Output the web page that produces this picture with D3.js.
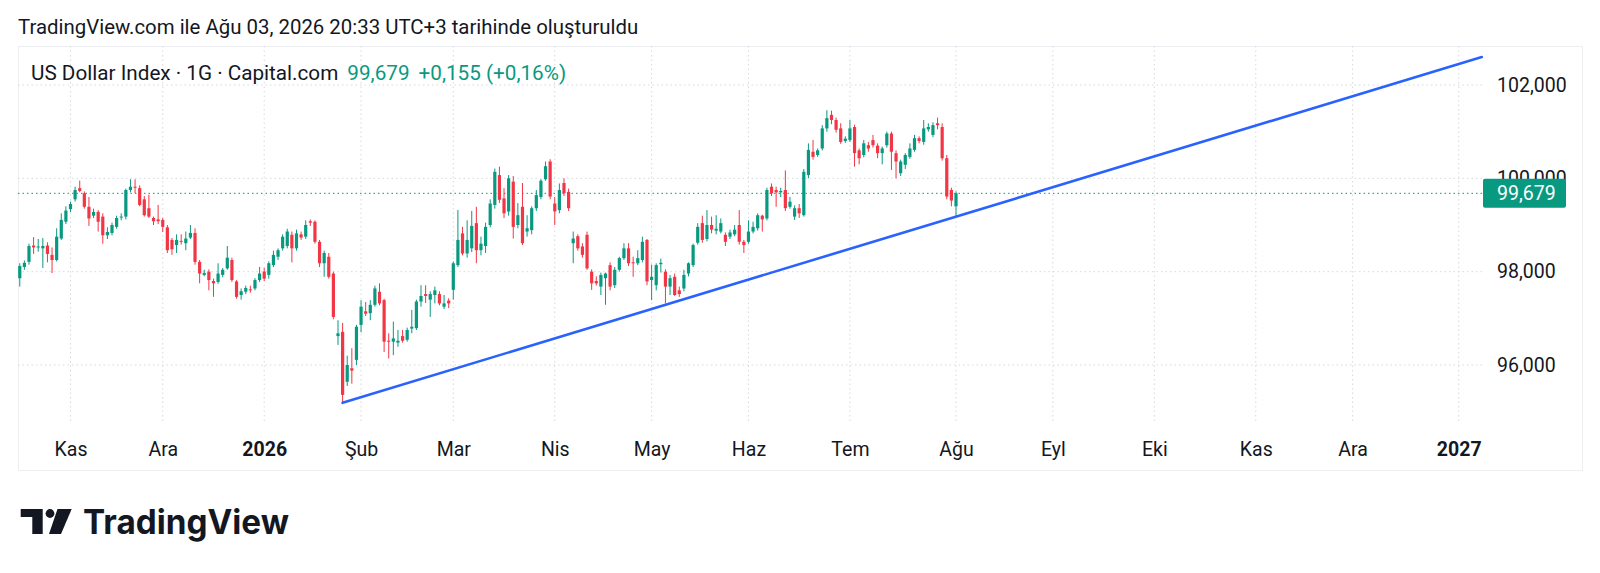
<!DOCTYPE html>
<html>
<head>
<meta charset="utf-8">
<script src="https://cdn.jsdelivr.net/npm/d3@7"></script>
<style>
  html, body { margin: 0; padding: 0; background: #fff; }
  svg { display: block; font-family: Roboto, "Noto Sans", sans-serif; }
</style>
</head>
<body>
<svg id="chart" width="1600" height="573"></svg>
<script>
// daily bars, weekdays from Fri 17 Oct 2025 to Mon 3 Aug 2026 (market holidays skipped)
var firstDay = "2025-10-17",
  lastDay = "2026-08-03",
  axisEnd = "2027-01-29",
  holidays = ["2025-12-25", "2026-01-01", "2026-04-03"];

// one line per month: Oct, Nov, Dec, Jan, Feb, Mar, Apr, May, Jun, Jul, Aug
var open = [
  97.86, 98.10, 98.21, 98.56, 98.52, 98.50, 98.56, 98.36, 98.25, 98.71, 99.07,
  99.34, 99.55, 99.79, 99.68, 99.39, 99.20, 99.28, 99.18, 98.78, 98.83, 98.96, 99.16, 99.18, 99.75, 99.82, 99.79, 99.55, 99.36, 99.15, 99.12,
  99.11, 98.95, 98.68, 98.57, 98.66, 98.61, 98.73, 98.83, 98.21, 97.93, 98.00, 97.80, 97.78, 97.93, 98.07, 98.25, 97.79, 97.50, 97.57, 97.62, 97.64, 97.82,
  98.00, 97.93, 98.14, 98.32, 98.50, 98.55, 98.79, 98.50, 98.80, 98.75, 99.08, 99.07, 98.64, 98.18, 98.32, 97.96, 96.62, 96.71, 95.64, 95.93, 96.11,
  96.86, 97.15, 97.11, 97.29, 97.57, 97.39, 96.52, 96.50, 96.48, 96.62, 96.54, 96.78, 96.79, 97.36, 97.52, 97.40, 97.50, 97.52, 97.25, 97.38,
  97.61, 98.14, 98.82, 98.39, 98.50, 99.04, 98.46, 98.55, 99.00, 99.43, 100.07, 99.57, 99.29, 99.93, 99.00, 99.39, 98.86, 98.89, 99.36, 99.60, 99.98, 100.36,
  99.46, 99.32, 99.90, 99.71, 98.61, 98.76, 98.54, 98.79, 98.00, 97.80, 97.68, 97.86, 98.14, 97.71, 98.04, 98.29, 98.50, 98.20, 98.18, 98.25, 98.68,
  97.82, 97.71, 98.16, 98.00, 97.68, 97.89, 97.60, 97.64, 97.96, 98.14, 98.62, 99.04, 98.70, 99.00, 98.88, 98.86, 98.79, 98.75, 98.80, 99.00, 98.64,
  98.64, 98.86, 98.93, 99.20, 99.14, 99.82, 99.75, 99.70, 99.75, 99.39, 99.18, 99.36, 99.21, 100.07, 100.57, 100.50, 100.64, 101.07, 101.36, 101.25, 101.07, 100.80,
  100.82, 101.10, 100.60, 100.50, 100.71, 100.82, 100.70, 100.54, 100.71, 100.96, 100.54, 100.11, 100.29, 100.46, 100.61, 100.86, 100.78, 101.05, 100.93, 101.18, 101.10, 100.43, 99.75,
  99.40
];
var high = [
  98.18, 98.24, 98.60, 98.74, 98.70, 98.72, 98.63, 98.52, 98.93, 99.25, 99.40,
  99.50, 99.82, 99.95, 99.72, 99.60, 99.35, 99.32, 99.25, 98.95, 99.05, 99.20, 99.25, 99.78, 99.98, 99.98, 99.85, 99.62, 99.65, 99.18, 99.43,
  99.15, 99.00, 98.72, 98.80, 98.80, 98.86, 99.00, 98.93, 98.25, 98.04, 98.05, 97.85, 98.18, 98.08, 98.55, 98.30, 97.82, 97.64, 97.70, 97.70, 97.86, 98.10,
  98.08, 98.22, 98.45, 98.50, 98.80, 98.92, 98.86, 98.90, 98.86, 99.10, 99.12, 99.10, 98.68, 98.45, 98.40, 98.00, 96.96, 96.90, 96.20, 96.36, 96.86,
  97.39, 97.35, 97.39, 97.70, 97.75, 97.42, 96.68, 96.93, 96.75, 96.75, 96.80, 97.18, 97.40, 97.71, 97.71, 97.58, 97.68, 97.58, 97.50, 97.43,
  98.22, 99.32, 98.96, 99.10, 99.30, 99.39, 98.75, 99.05, 99.55, 100.21, 100.25, 99.79, 100.07, 100.05, 99.47, 99.90, 99.21, 99.40, 99.75, 99.98, 100.36, 100.41,
  99.60, 99.89, 100.00, 99.78, 98.86, 98.80, 98.61, 98.86, 98.05, 97.90, 97.98, 97.98, 98.20, 98.10, 98.32, 98.61, 98.61, 98.32, 98.46, 98.75, 98.70,
  98.15, 98.18, 98.28, 98.05, 97.93, 97.96, 97.68, 98.04, 98.20, 98.60, 99.04, 99.20, 99.32, 99.18, 99.21, 99.14, 98.84, 98.90, 99.00, 99.32, 98.68,
  99.10, 99.07, 99.25, 99.22, 99.80, 99.89, 99.82, 99.80, 100.17, 99.60, 99.42, 99.45, 100.20, 100.75, 100.82, 100.64, 101.14, 101.46, 101.45, 101.30, 101.18, 100.90,
  101.25, 101.15, 100.64, 100.82, 100.78, 100.93, 100.75, 100.68, 101.00, 101.00, 100.60, 100.40, 100.54, 100.75, 100.93, 100.90, 101.25, 101.18, 101.20, 101.30, 101.18, 100.50, 99.80,
  99.72
];
var low = [
  97.68, 98.04, 98.15, 98.38, 98.43, 98.08, 98.20, 97.97, 98.22, 98.68, 99.02,
  99.28, 99.50, 99.70, 99.35, 98.98, 99.15, 98.86, 98.60, 98.70, 98.78, 98.92, 99.10, 99.12, 99.70, 99.68, 99.40, 99.18, 99.15, 99.00, 99.02,
  98.85, 98.40, 98.36, 98.40, 98.58, 98.46, 98.70, 98.15, 97.75, 97.90, 97.60, 97.46, 97.74, 97.88, 98.04, 97.78, 97.42, 97.40, 97.52, 97.55, 97.60, 97.78,
  97.80, 97.85, 98.10, 98.25, 98.45, 98.50, 98.20, 98.45, 98.68, 98.70, 98.98, 98.60, 98.10, 97.89, 97.85, 96.98, 96.43, 95.19, 95.55, 95.60, 96.00,
  96.70, 97.05, 96.96, 97.25, 97.28, 96.28, 96.14, 96.21, 96.39, 96.48, 96.50, 96.68, 96.75, 97.25, 97.33, 97.03, 97.32, 97.28, 97.20, 97.22,
  97.40, 98.10, 98.35, 98.30, 98.42, 98.18, 98.35, 98.40, 98.95, 99.35, 99.47, 99.15, 99.20, 98.71, 98.93, 98.57, 98.75, 98.80, 99.30, 99.55, 99.95, 99.55,
  99.00, 99.25, 99.62, 99.30, 98.18, 98.45, 98.30, 98.04, 97.61, 97.70, 97.50, 97.29, 97.60, 97.65, 98.00, 98.25, 98.12, 97.89, 98.14, 98.20, 97.71,
  97.39, 97.60, 97.98, 97.32, 97.50, 97.48, 97.46, 97.58, 97.90, 98.10, 98.58, 98.62, 98.65, 98.82, 98.80, 98.82, 98.55, 98.70, 98.76, 98.58, 98.40,
  98.60, 98.82, 98.88, 98.86, 99.10, 99.62, 99.39, 99.60, 99.30, 99.35, 99.11, 99.15, 99.18, 100.00, 100.40, 100.46, 100.60, 101.00, 101.16, 100.98, 100.74, 100.76,
  100.78, 100.25, 100.30, 100.45, 100.57, 100.66, 100.43, 100.30, 100.66, 100.18, 100.00, 100.05, 100.20, 100.42, 100.57, 100.75, 100.72, 101.00, 100.88, 101.05, 100.38, 99.55, 99.40,
  99.18
];
var close = [
  98.12, 98.19, 98.55, 98.52, 98.54, 98.55, 98.38, 98.25, 98.75, 99.11, 99.31,
  99.45, 99.75, 99.73, 99.39, 99.14, 99.28, 99.07, 98.78, 98.85, 99.00, 99.15, 99.18, 99.75, 99.82, 99.80, 99.43, 99.21, 99.18, 99.08, 99.08,
  98.96, 98.46, 98.48, 98.68, 98.64, 98.71, 98.83, 98.21, 97.96, 97.97, 97.82, 97.75, 97.96, 98.04, 98.30, 97.82, 97.46, 97.58, 97.65, 97.60, 97.82, 97.96,
  97.85, 98.18, 98.36, 98.46, 98.75, 98.86, 98.50, 98.82, 98.73, 99.00, 99.05, 98.64, 98.18, 98.40, 97.89, 97.03, 96.68, 95.36, 96.00, 95.88, 96.82,
  97.25, 97.10, 97.29, 97.64, 97.32, 96.50, 96.50, 96.57, 96.52, 96.52, 96.75, 96.82, 97.36, 97.48, 97.48, 97.52, 97.60, 97.32, 97.32, 97.32,
  98.18, 98.68, 98.39, 98.68, 98.98, 98.46, 98.60, 98.96, 99.46, 100.14, 99.54, 99.25, 100.00, 98.96, 99.21, 98.61, 98.93, 99.36, 99.64, 99.95, 100.26, 99.61,
  99.29, 99.75, 99.68, 99.36, 98.71, 98.50, 98.36, 98.07, 97.75, 97.75, 97.93, 97.96, 97.68, 98.04, 98.29, 98.50, 98.18, 98.18, 98.29, 98.64, 97.79,
  97.89, 98.14, 98.19, 97.68, 97.86, 97.50, 97.52, 97.93, 98.18, 98.57, 98.96, 98.68, 99.00, 98.90, 98.92, 99.04, 98.64, 98.84, 98.90, 98.64, 98.57,
  98.86, 98.96, 99.21, 99.12, 99.75, 99.68, 99.70, 99.73, 99.36, 99.50, 99.36, 99.25, 100.14, 100.61, 100.46, 100.60, 101.07, 101.29, 101.25, 101.04, 100.78, 100.85,
  101.07, 100.54, 100.43, 100.75, 100.64, 100.71, 100.54, 100.64, 100.96, 100.57, 100.36, 100.36, 100.50, 100.64, 100.86, 100.80, 101.07, 101.10, 101.14, 101.14, 100.43, 99.61, 99.524,
  99.679
];

var monthNames = ["Oca", "Şub", "Mar", "Nis", "May", "Haz", "Tem", "Ağu", "Eyl", "Eki", "Kas", "Ara"];
var priceTicks = [96, 98, 100, 102];
var trendLine = [
  { date: "2026-01-27", value: 95.19 },
  { date: "2027-01-08", value: 102.6 }
];

var upColor = "#089981", downColor = "#f23645", textColor = "#131722";

var svg = d3.select("#chart");
var iso = d3.utcFormat("%Y-%m-%d");
var parse = d3.utcParse("%Y-%m-%d");

// trading day axis (bar index), carried on past the last bar
var days = d3.utcDay.range(parse(firstDay), parse(axisEnd))
  .filter(function (d) { return d.getUTCDay() > 0 && d.getUTCDay() < 6 && holidays.indexOf(iso(d)) < 0; });
var dayIndex = {};
days.forEach(function (d, i) { dayIndex[iso(d)] = i; });

var bars = open.map(function (o, i) {
  return { i: i, date: days[i], o: o, h: high[i], l: low[i], c: close[i] };
});

var x = d3.scaleLinear().domain([11, dayIndex[lastDay]]).range([70.5, 956]);
var y = d3.scaleLinear().domain([96, 102]).range([365, 85]);

var plotLeft = 18, plotRight = 1483, plotTop = 46, plotBottom = 422;

// frame
svg.append("rect")
  .attr("x", 18.5).attr("y", 46.5).attr("width", 1564).attr("height", 424)
  .attr("fill", "none").attr("stroke", "#eceef2");

// month ticks: first trading day of each month
var monthTicks = days.filter(function (d, i) {
  return i > 0 && d.getUTCMonth() !== days[i - 1].getUTCMonth();
}).map(function (d) { return dayIndex[iso(d)]; });

svg.append("g").selectAll("line")
  .data(monthTicks)
  .enter().append("line")
  .attr("x1", function (d) { return x(d); })
  .attr("x2", function (d) { return x(d); })
  .attr("y1", plotTop).attr("y2", plotBottom)
  .attr("stroke", "#d6d9e0").attr("stroke-dasharray", "1.5,3");

svg.append("g").selectAll("line")
  .data(priceTicks)
  .enter().append("line")
  .attr("x1", plotLeft).attr("x2", plotRight)
  .attr("y1", function (d) { return y(d); })
  .attr("y2", function (d) { return y(d); })
  .attr("stroke", "#d6d9e0").attr("stroke-dasharray", "1.5,3");

// last price line
var last = bars[bars.length - 1], prev = bars[bars.length - 2];
svg.append("line")
  .attr("x1", plotLeft).attr("x2", plotRight)
  .attr("y1", y(last.c)).attr("y2", y(last.c))
  .attr("stroke", upColor).attr("stroke-dasharray", "1.5,3");

// candles
var candle = svg.append("g").selectAll("g")
  .data(bars)
  .enter().append("g")
  .attr("fill", function (d) { return d.c >= d.o ? upColor : downColor; })
  .attr("stroke", function (d) { return d.c >= d.o ? upColor : downColor; });

candle.append("line")
  .attr("x1", function (d) { return x(d.i); })
  .attr("x2", function (d) { return x(d.i); })
  .attr("y1", function (d) { return y(d.h); })
  .attr("y2", function (d) { return y(d.l); })
  .attr("stroke-width", 1);

candle.append("rect")
  .attr("stroke", "none")
  .attr("x", function (d) { return x(d.i) - 1.6; })
  .attr("width", 3.2)
  .attr("y", function (d) { return y(Math.max(d.o, d.c)); })
  .attr("height", function (d) { return Math.max(1, Math.abs(y(d.o) - y(d.c))); });

// trend line
svg.append("line")
  .attr("x1", x(dayIndex[trendLine[0].date])).attr("y1", y(trendLine[0].value))
  .attr("x2", x(dayIndex[trendLine[1].date])).attr("y2", y(trendLine[1].value))
  .attr("stroke", "#2962ff").attr("stroke-width", 2.6).attr("stroke-linecap", "round");

// number formats (comma decimals)
var tr = d3.formatLocale({ decimal: ",", thousands: ".", grouping: [3], currency: ["", ""] });
var fmtPrice = tr.format(".3f"), fmtChange = tr.format("+.3f"), fmtPct = tr.format("+.2f");

// price axis
var yAxis = svg.append("g")
  .attr("transform", "translate(1497,0)")
  .call(d3.axisRight(y).tickValues(priceTicks).tickFormat(fmtPrice).tickSize(0).tickPadding(0));
yAxis.select(".domain").remove();
yAxis.selectAll("text")
  .attr("fill", textColor).attr("font-size", "19.5px").attr("font-family", "Roboto");

// time axis
var xAxis = svg.append("g")
  .attr("transform", "translate(0,442)")
  .call(d3.axisBottom(x).tickValues(monthTicks).tickSize(0).tickPadding(0)
    .tickFormat(function (i) {
      var d = days[i];
      return d.getUTCMonth() === 0 ? d.getUTCFullYear() : monthNames[d.getUTCMonth()];
    }));
xAxis.select(".domain").remove();
xAxis.selectAll("text")
  .attr("fill", textColor).attr("font-size", "19.5px").attr("font-family", "Roboto")
  .attr("font-weight", function (i) { return days[i].getUTCMonth() === 0 ? "bold" : "normal"; });

// last price badge (sits over the 100,000 label, as on the original)
svg.append("rect")
  .attr("x", 1483).attr("y", y(last.c) - 14.5).attr("width", 83).attr("height", 29).attr("rx", 2)
  .attr("fill", upColor);
svg.append("text")
  .attr("x", 1497).attr("y", y(last.c)).attr("dy", "0.35em")
  .attr("fill", "#fff").attr("font-size", "19.5px")
  .text(fmtPrice(last.c));

// header texts
svg.append("text")
  .attr("x", 18).attr("y", 33.5)
  .attr("fill", textColor).attr("font-size", "20.4px")
  .text("TradingView.com ile Ağu 03, 2026 20:33 UTC+3 tarihinde oluşturuldu");

var change = last.c - prev.c;
var legend = svg.append("text")
  .attr("x", 31).attr("y", 79.5)
  .attr("font-size", "20.7px").attr("fill", textColor);
legend.append("tspan").text("US Dollar Index · 1G · Capital.com");
legend.append("tspan").attr("dx", 9).attr("fill", upColor).text(fmtPrice(last.c));
legend.append("tspan").attr("dx", 9).attr("fill", upColor)
  .text(fmtChange(change) + " (" + fmtPct(change / prev.c * 100) + "%)");

// TradingView logo
var logo = svg.append("g").attr("fill", "#131722");
logo.append("path").attr("d", "M20.7,509H42.7V534H32.3V517H20.7Z");
logo.append("circle").attr("cx", 50).attr("cy", 513.5).attr("r", 4.4);
logo.append("path").attr("d", "M57.5,509H71.7L61,534H49Z");
logo.append("text")
  .attr("x", 83).attr("y", 534)
  .attr("font-family", "Inter, Roboto, sans-serif").attr("font-weight", 700).attr("font-size", "34px")
  .attr("textLength", 206).attr("lengthAdjust", "spacingAndGlyphs")
  .text("TradingView");
</script>
</body>
</html>
